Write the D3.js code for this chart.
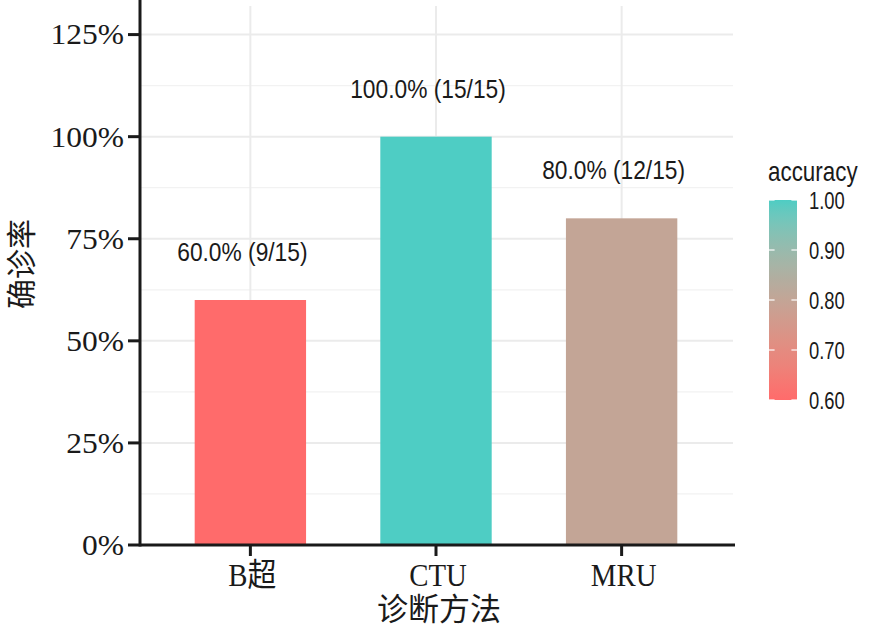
<!DOCTYPE html>
<html lang="zh">
  <head>
    <meta charset="UTF-8" />
    <title>确诊率</title>
    <style type="text/css">
      body {
        margin: 0;
        background: #ffffff;
      }
      svg {
        display: block;
      }
      .serif {
        font-family: "Liberation Serif", "Times New Roman", "Noto Sans CJK SC", serif;
        fill: #1a1a1a;
      }
      .sans {
        font-family: "Liberation Sans", Arial, "Noto Sans CJK SC", sans-serif;
        fill: #1a1a1a;
      }
      .cjk {
        font-family: "Noto Sans CJK SC", sans-serif;
        fill: #1a1a1a;
      }
    </style>
  </head>
  <body>
    <script src="https://d3js.org/d3.v7.min.js"></script>
    <script>
      // data
      var methods = ["B超", "CTU", "MRU"];
      var correct = [9, 15, 12];
      var totals = [15, 15, 15];
      var yTicks = [0, 0.25, 0.5, 0.75, 1, 1.25];
      var yMinor = [0.125, 0.375, 0.625, 0.875, 1.125];
      var legendTicks = [0.6, 0.7, 0.8, 0.9, 1.0];

      var rows = methods.map((m, i) => ({
        method: m,
        correct: correct[i],
        total: totals[i],
        acc: correct[i] / totals[i],
      }));

      var width = 889;
      var height = 629;
      var panelLeft = 140;
      var panelRight = 733;
      var panelTop = 6;
      var panelBottom = 545;

      var svg = d3
        .select("body")
        .append("svg")
        .attr("width", width)
        .attr("height", height);

      svg.append("rect").attr("width", width).attr("height", height).attr("fill", "#fff");

      var x = d3
        .scaleBand()
        .domain(methods)
        .range([panelLeft - 1, panelRight])
        .paddingInner(0.4)
        .paddingOuter(0.3);

      var y = d3.scaleLinear().domain([0, 1.32]).range([panelBottom, panelTop]);

      var color = d3
        .scaleLinear()
        .domain([0.6, 1])
        .range(["#FF6B6B", "#4ECDC4"])
        .interpolate(d3.interpolateLab);

      // squeeze or stretch text horizontally to match the picture
      function squeeze(sel, k) {
        sel.each(function () {
          var w = this.getComputedTextLength();
          d3.select(this)
            .attr("textLength", w * k)
            .attr("lengthAdjust", "spacingAndGlyphs");
        });
      }

      // grid
      var grid = svg.append("g").attr("fill", "none");
      grid
        .selectAll(".minor")
        .data(yMinor)
        .join("line")
        .attr("x1", panelLeft)
        .attr("x2", panelRight)
        .attr("y1", (d) => y(d))
        .attr("y2", (d) => y(d))
        .attr("stroke", "#f2f2f2")
        .attr("stroke-width", 1.2);
      grid
        .selectAll(".major")
        .data(yTicks)
        .join("line")
        .attr("x1", panelLeft)
        .attr("x2", panelRight)
        .attr("y1", (d) => y(d))
        .attr("y2", (d) => y(d))
        .attr("stroke", "#ebebeb")
        .attr("stroke-width", 2);
      grid
        .selectAll(".vmajor")
        .data(methods)
        .join("line")
        .attr("x1", (d) => x(d) + x.bandwidth() / 2)
        .attr("x2", (d) => x(d) + x.bandwidth() / 2)
        .attr("y1", panelTop)
        .attr("y2", panelBottom)
        .attr("stroke", "#ebebeb")
        .attr("stroke-width", 2);

      // bars
      svg
        .append("g")
        .selectAll("rect")
        .data(rows)
        .join("rect")
        .attr("x", (d) => x(d.method))
        .attr("width", x.bandwidth())
        .attr("y", (d) => y(d.acc))
        .attr("height", (d) => y(0) - y(d.acc))
        .attr("fill", (d) => color(d.acc));

      // bar labels
      svg
        .append("g")
        .selectAll("text")
        .data(rows)
        .join("text")
        .attr("class", "sans")
        .attr("font-size", 25)
        .attr("text-anchor", "middle")
        .attr("x", (d) => x(d.method) + x.bandwidth() / 2 - 8)
        .attr("y", (d) => y(d.acc) - 39)
        .text((d) => `${(d.acc * 100).toFixed(1)}% (${d.correct}/${d.total})`)
        .call(squeeze, 0.91);

      // axes
      var axis = svg.append("g").attr("stroke", "#1a1a1a").attr("stroke-width", 3);
      axis
        .append("line")
        .attr("x1", panelLeft)
        .attr("x2", panelLeft)
        .attr("y1", 0)
        .attr("y2", panelBottom + 1.5);
      axis
        .append("line")
        .attr("x1", panelLeft)
        .attr("x2", panelRight + 2)
        .attr("y1", panelBottom)
        .attr("y2", panelBottom);
      axis
        .selectAll(".yt")
        .data(yTicks)
        .join("line")
        .attr("x1", panelLeft - 12)
        .attr("x2", panelLeft)
        .attr("y1", (d) => y(d))
        .attr("y2", (d) => y(d));
      axis
        .selectAll(".xt")
        .data(methods)
        .join("line")
        .attr("x1", (d) => x(d) + x.bandwidth() / 2)
        .attr("x2", (d) => x(d) + x.bandwidth() / 2)
        .attr("y1", panelBottom)
        .attr("y2", panelBottom + 11);

      svg
        .append("g")
        .selectAll("text")
        .data(yTicks)
        .join("text")
        .attr("class", "serif")
        .attr("font-size", 30)
        .attr("text-anchor", "end")
        .attr("x", panelLeft - 16)
        .attr("y", (d) => y(d))
        .attr("dy", "0.33em")
        .text((d) => d3.format(".0%")(d))
        .call(squeeze, 1.05);

      svg
        .append("g")
        .selectAll("text")
        .data(methods)
        .join("text")
        .attr("class", "serif")
        .attr("font-size", 32)
        .attr("text-anchor", "middle")
        .attr("x", (d) => x(d) + x.bandwidth() / 2 + 2)
        .attr("y", panelBottom + 41)
        .text((d) => d)
        .call(squeeze, 0.9);

      // axis titles
      svg
        .append("text")
        .attr("class", "cjk")
        .attr("font-size", 31)
        .attr("text-anchor", "middle")
        .attr("x", 439)
        .attr("y", 620)
        .text("诊断方法");

      svg
        .append("text")
        .attr("class", "cjk")
        .attr("font-size", 30)
        .attr("text-anchor", "middle")
        .attr("transform", "translate(32,264) rotate(-90)")
        .text("确诊率");

      // colour bar legend
      var lx = 769;
      var lw = 28;
      var ly = d3.scaleLinear().domain([0.6, 1]).range([400, 200]);

      var grad = svg
        .append("defs")
        .append("linearGradient")
        .attr("id", "acc-grad")
        .attr("x1", 0)
        .attr("x2", 0)
        .attr("y1", 1)
        .attr("y2", 0);
      grad
        .selectAll("stop")
        .data(d3.range(0, 1.0001, 0.05))
        .join("stop")
        .attr("offset", (t) => t)
        .attr("stop-color", (t) => color(0.6 + t * 0.4));

      svg
        .append("rect")
        .attr("x", lx)
        .attr("y", ly(1))
        .attr("width", lw)
        .attr("height", ly(0.6) - ly(1))
        .attr("fill", "url(#acc-grad)");

      var lt = svg.append("g").attr("stroke", "#fff").attr("stroke-width", 1.2);
      lt.selectAll(".l")
        .data(legendTicks)
        .join("line")
        .attr("x1", lx)
        .attr("x2", lx + 5.6)
        .attr("y1", (d) => ly(d))
        .attr("y2", (d) => ly(d));
      lt.selectAll(".r")
        .data(legendTicks)
        .join("line")
        .attr("x1", lx + lw - 5.6)
        .attr("x2", lx + lw)
        .attr("y1", (d) => ly(d))
        .attr("y2", (d) => ly(d));

      svg
        .append("g")
        .selectAll("text")
        .data(legendTicks)
        .join("text")
        .attr("class", "sans")
        .attr("font-size", 23)
        .attr("x", 809)
        .attr("y", (d) => ly(d))
        .attr("dy", "0.38em")
        .text((d) => d.toFixed(2))
        .call(squeeze, 0.8);

      svg
        .append("text")
        .attr("class", "sans")
        .attr("font-size", 28)
        .attr("x", 768)
        .attr("y", 181)
        .text("accuracy")
        .call(squeeze, 0.8);
    </script>
  </body>
</html>
